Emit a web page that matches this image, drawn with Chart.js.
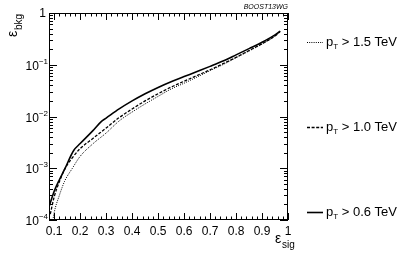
<!DOCTYPE html>
<html>
<head>
<meta charset="utf-8">
<script src="https://cdn.jsdelivr.net/npm/chart.js@4"></script>
<style>
  html, body { margin: 0; padding: 0; background: #fff; }
  #wrap { width: 399px; height: 254px; }
</style>
</head>
<body>
<div id="wrap"><canvas id="rocChart" width="399" height="254"></canvas></div>
<script>
// signal efficiency (x) and background efficiency (y) per pT cut
var sig06 = [0.08, 0.1, 0.12, 0.14, 0.175, 0.2, 0.25, 0.28, 0.3, 0.35, 0.4, 0.45, 0.5, 0.55, 0.6, 0.65, 0.7, 0.75, 0.8, 0.85, 0.9, 0.95, 0.97];
var bkg06 = [1.8e-4, 3.6e-4, 6.0e-4, 9.5e-4, 2.2e-3, 3.0e-3, 5.4e-3, 7.9e-3, 9.3e-3, 0.0140, 0.0200, 0.0275, 0.0365, 0.047, 0.059, 0.074, 0.093, 0.118, 0.155, 0.205, 0.272, 0.378, 0.447];

var sig10 = [0.085, 0.1, 0.12, 0.14, 0.17, 0.2, 0.25, 0.3, 0.35, 0.4, 0.45, 0.5, 0.55, 0.6, 0.65, 0.7, 0.75, 0.8, 0.85, 0.9, 0.95, 0.97];
var bkg10 = [1.3e-4, 2.8e-4, 5.5e-4, 9.5e-4, 1.6e-3, 2.4e-3, 3.8e-3, 6.0e-3, 9.5e-3, 0.0140, 0.0200, 0.0275, 0.037, 0.048, 0.062, 0.080, 0.105, 0.139, 0.188, 0.255, 0.36, 0.437];

var sig15 = [0.095, 0.1, 0.12, 0.14, 0.17, 0.2, 0.25, 0.3, 0.35, 0.4, 0.45, 0.5, 0.55, 0.6, 0.65, 0.7, 0.75, 0.8, 0.85, 0.9, 0.95, 0.97];
var bkg15 = [1.0e-4, 1.4e-4, 3.0e-4, 5.6e-4, 1.0e-3, 1.7e-3, 3.0e-3, 4.8e-3, 8.2e-3, 0.0122, 0.0175, 0.0245, 0.034, 0.044, 0.058, 0.077, 0.101, 0.137, 0.185, 0.25, 0.36, 0.437];

var seriesNames = ["1.5", "1.0", "0.6"];
var xTickLabels = ["0.1", "0.2", "0.3", "0.4", "0.5", "0.6", "0.7", "0.8", "0.9", "1"];
var yTickExps = [0, -1, -2, -3, -4];

function pts(xs, ys) {
    var out = [];
    for (var i = 0; i < xs.length; i++) out.push({x: xs[i], y: ys[i]});
    return out;
}

var FONT = "'Liberation Sans', Arial, sans-serif";

var decor = {
    id: 'decor',
    afterDraw: function(chart) {
        var c = chart.ctx, a = chart.chartArea;
        var xs = chart.scales.x, ys = chart.scales.y;
        c.save();
        c.strokeStyle = '#000';
        c.lineWidth = 1;
        c.strokeRect(a.left + 0.5, a.top + 0.5, a.right - a.left - 1, a.bottom - a.top - 1);

        // x ticks (minor every 0.02, major every 0.1)
        c.beginPath();
        for (var k = 4; k <= 50; k++) {
            var px = Math.round(xs.getPixelForValue(k / 50)) + 0.5;
            var len = (k % 5 === 0) ? 7 : 3.5;
            c.moveTo(px, a.bottom); c.lineTo(px, a.bottom - len);
            c.moveTo(px, a.top); c.lineTo(px, a.top + len);
        }
        // y ticks (log)
        for (var d = -4; d <= -1; d++) {
            for (var m = 1; m <= 9; m++) {
                var py = Math.round(ys.getPixelForValue(m * Math.pow(10, d))) + 0.5;
                var l2 = (m === 1) ? 8 : 4;
                c.moveTo(a.left, py); c.lineTo(a.left + l2, py);
                c.moveTo(a.right, py); c.lineTo(a.right - l2, py);
            }
        }
        c.stroke();

        c.fillStyle = '#000';
        // x tick labels
        c.font = '12px ' + FONT;
        c.textAlign = 'center';
        c.textBaseline = 'alphabetic';
        xTickLabels.forEach(function(t) {
            c.fillText(t, xs.getPixelForValue(parseFloat(t)), 235);
        });
        // y tick labels
        yTickExps.forEach(function(e) {
            var py = ys.getPixelForValue(Math.pow(10, e));
            c.textAlign = 'right';
            if (e === 0) {
                c.font = '12px ' + FONT;
                c.fillText('1', 46, py + 4);
            } else {
                var sup = String(e).replace('-', '\u2212');
                c.font = '8px ' + FONT;
                var sw = c.measureText(sup).width;
                c.fillText(sup, 48, py - 1);
                c.font = '12px ' + FONT;
                c.fillText('10', 48 - sw, py + 5);
            }
        });

        // axis titles
        c.textAlign = 'left';
        c.font = '14px ' + FONT;
        c.fillText('\u03b5', 275, 243);
        c.font = '10px ' + FONT;
        c.fillText('sig', 282, 248);

        c.save();
        c.translate(17, 37);
        c.rotate(-Math.PI / 2);
        c.font = '14px ' + FONT;
        c.fillText('\u03b5', 0, 0);
        c.font = '10px ' + FONT;
        c.fillText('bkg', 7, 5);
        c.restore();

        // label
        c.font = 'italic 7px ' + FONT;
        c.textAlign = 'right';
        c.fillText('BOOST13WG', 288, 9);

        // legend
        var rows = [42, 127, 212];
        var dashes = [[1, 1.2], [3, 1.6], []];
        var widths = [1, 1.3, 1.6];
        c.textAlign = 'left';
        for (var i = 0; i < 3; i++) {
            c.beginPath();
            c.setLineDash(dashes[i]);
            c.lineWidth = widths[i];
            c.moveTo(307, rows[i] + 0.5); c.lineTo(323, rows[i] + 0.5);
            c.stroke();
            c.setLineDash([]);
            c.font = '13px ' + FONT;
            c.fillText('p', 326, rows[i] + 4);
            var pw = c.measureText('p').width;
            c.font = '8px ' + FONT;
            c.fillText('T', 326 + pw, rows[i] + 7);
            var tw = c.measureText('T').width;
            c.font = '13px ' + FONT;
            c.fillText(' > ' + seriesNames[i] + ' TeV', 326 + pw + tw, rows[i] + 4);
        }
        c.restore();
    }
};

new Chart(document.getElementById('rocChart').getContext('2d'), {
    type: 'line',
    data: {
        datasets: [{
            label: 'pT > 1.5 TeV',
            data: pts(sig15, bkg15),
            borderColor: '#000',
            borderWidth: 1,
            borderDash: [1, 1.2],
            pointRadius: 0,
            cubicInterpolationMode: 'monotone',
            fill: false
        }, {
            label: 'pT > 1.0 TeV',
            data: pts(sig10, bkg10),
            borderColor: '#000',
            borderWidth: 1.3,
            borderDash: [3, 1.6],
            pointRadius: 0,
            cubicInterpolationMode: 'monotone',
            fill: false
        }, {
            label: 'pT > 0.6 TeV',
            data: pts(sig06, bkg06),
            borderColor: '#000',
            borderWidth: 1.6,
            pointRadius: 0,
            cubicInterpolationMode: 'monotone',
            fill: false
        }]
    },
    options: {
        responsive: false,
        animation: false,
        layout: { padding: { top: 13, right: 111, left: 0, bottom: 0 } },
        plugins: { legend: { display: false }, tooltip: { enabled: false } },
        scales: {
            x: {
                type: 'linear', min: 0.08, max: 1,
                grid: { display: false, drawTicks: false },
                border: { display: false },
                ticks: { display: false },
                afterFit: function(s) { s.height = 34; }
            },
            y: {
                type: 'logarithmic', min: 1e-4, max: 1,
                grid: { display: false, drawTicks: false },
                border: { display: false },
                ticks: { display: false },
                afterFit: function(s) { s.width = 49; }
            }
        }
    },
    plugins: [decor]
});
</script>
</body>
</html>
